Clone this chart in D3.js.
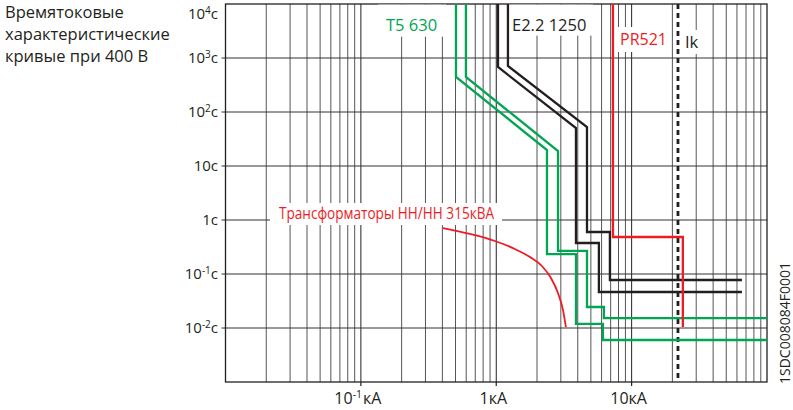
<!DOCTYPE html>
<html><head><meta charset="utf-8">
<script src="https://cdn.jsdelivr.net/npm/d3@7"></script>
<style>
body{margin:0;background:#fff}
svg{display:block}
text{font-family:"Open Sans",sans-serif}
</style>
</head><body>
<svg id="chart" width="793" height="410"></svg>
<script>
// ---------- data ----------
const titleLines = ["Времятоковые", "характеристические", "кривые при 400 В"];

const yLabelValues = [1e4, 1e3, 1e2, 1e1, 1, 1e-1, 1e-2];
const yLabelMain   = ["10", "10", "10", "10", "1", "10", "10"];
const yLabelSup    = ["4", "3", "2", "", "", "-1", "-2"];
const yUnit = "с";

const xLabelValues = [0.1, 1, 10];
const xLabelMain   = ["10", "1", "10"];
const xLabelSup    = ["-1", "", ""];
const xUnit = "кА";

// T5 630 (green band)
const t5LowI  = [0.504, 0.504, 2.37, 2.37, 3.88, 3.88, 6.14, 6.14, 100];
const t5LowT  = [1e4, 445, 19.8, 0.234, 0.234, 0.0119, 0.0119, 0.006, 0.006];
const t5HighI = [0.597, 0.597, 2.86, 2.86, 4.68, 4.68, 6.24, 6.24, 100];
const t5HighT = [1e4, 445, 18.9, 0.267, 0.267, 0.0245, 0.0245, 0.0153, 0.0153];

// E2.2 1250 (black band)
const e2LowI  = [1.03, 1.03, 3.88, 3.88, 5.73, 5.73, 65.3];
const e2LowT  = [1e4, 681, 50.5, 0.375, 0.375, 0.0464, 0.0464];
const e2HighI = [1.22, 1.22, 4.68, 4.68, 6.91, 6.91, 65.3];
const e2HighT = [1e4, 711, 52.7, 0.6, 0.6, 0.0774, 0.0774];

// PR521 (red)
const prI = [7.28, 7.28, 23.9, 23.9];
const prT = [1e4, 0.484, 0.484, 0.0104];

// Transformer inrush curve (red)
const trI = [0.404, 0.639, 0.978, 1.374, 1.774, 2.175, 2.535, 2.856, 3.11, 3.27];
const trT = [0.711, 0.551, 0.408, 0.290, 0.2065, 0.1407, 0.0843, 0.0445, 0.0216, 0.0104];

// Short-circuit current Ik
const ikValue = 22;

const seriesNames = ["T5 630", "E2.2 1250", "PR521", "Трансформаторы НН/НН 315кВА", "Ik"];
const figureCode = "1SDC008084F0001";

// ---------- drawing ----------
const GREEN = "#00a651", BLACK = "#231f20", RED = "#ed1c24";
const svg = d3.select("#chart");

const x = d3.scaleLog().domain([0.01, 100]).range([225.5, 767]);
const y = d3.scaleLog().domain([1e-3, 1e4]).range([382, 4]);

// title
svg.append("g").selectAll("text").data(titleLines).join("text")
  .attr("x", 5).attr("y", (d, i) => 18 + i * 22)
  .attr("font-size", 16.5).attr("fill", "#231f20").text(d => d);

// grid: vertical lines at 1..9 x 10^n
const vLines = [];
for (let e = -2; e <= 1; e++) for (let k = 1; k <= 9; k++) vLines.push(k * Math.pow(10, e));
const grid = svg.append("g");
grid.selectAll("line.v").data(vLines).join("line")
  .attr("x1", d => x(d)).attr("x2", d => x(d))
  .attr("y1", y(1e4)).attr("y2", y(1e-3))
  .attr("stroke", d => Math.abs(Math.log10(d) - Math.round(Math.log10(d))) < 1e-9 ? "#222" : "#555")
  .attr("stroke-width", 1);
const hLines = [1e3, 1e2, 1e1, 1, 1e-1, 1e-2];
grid.selectAll("line.h").data(hLines).join("line")
  .attr("x1", x(0.01) - 4).attr("x2", x(100))
  .attr("y1", d => y(d)).attr("y2", d => y(d))
  .attr("stroke", "#333").attr("stroke-width", 1);

// frame
svg.append("rect").attr("x", x(0.01)).attr("y", y(1e4))
  .attr("width", x(100) - x(0.01)).attr("height", y(1e-3) - y(1e4))
  .attr("fill", "none").attr("stroke", "#231f20").attr("stroke-width", 1.3);

// x ticks
svg.append("g").selectAll("line").data(xLabelValues).join("line")
  .attr("x1", d => x(d)).attr("x2", d => x(d))
  .attr("y1", y(1e-3)).attr("y2", y(1e-3) + 4)
  .attr("stroke", "#231f20").attr("stroke-width", 1.2);

// label background boxes (hide grid behind labels)
const boxes = [[378, 4.6, 68, 32], [509, 4.6, 84, 31], [616, 27, 53, 25], [683, 30, 17, 24], [270, 203, 232, 22]];
svg.append("g").selectAll("rect").data(boxes).join("rect")
  .attr("x", d => d[0]).attr("y", d => d[1]).attr("width", d => d[2]).attr("height", d => d[3])
  .attr("fill", "#fff");

// Ik dashed
svg.append("line").attr("x1", x(ikValue)).attr("x2", x(ikValue))
  .attr("y1", y(1e4)).attr("y2", y(1e-3))
  .attr("stroke", BLACK).attr("stroke-width", 2.8).attr("stroke-dasharray", "5,4");

// curves
const line = d3.line().x(d => x(d[0])).y(d => y(d[1]));
const zip = (a, b) => a.map((v, i) => [v, b[i]]);
const curves = [
  [t5LowI, t5LowT, GREEN], [t5HighI, t5HighT, GREEN],
  [e2LowI, e2LowT, BLACK], [e2HighI, e2HighT, BLACK],
  [prI, prT, RED]
];
svg.append("g").selectAll("path").data(curves).join("path")
  .attr("d", d => line(zip(d[0], d[1])))
  .attr("fill", "none").attr("stroke", d => d[2]).attr("stroke-width", 2.3)
  .attr("stroke-linejoin", "miter");
svg.append("path")
  .attr("d", d3.line().x(d => x(d[0])).y(d => y(d[1])).curve(d3.curveMonotoneX)(zip(trI, trT)))
  .attr("fill", "none").attr("stroke", RED).attr("stroke-width", 1.8);

// series labels
svg.append("text").attr("x", 386).attr("y", 31).attr("font-size", 16.5).attr("fill", GREEN).text(seriesNames[0]);
svg.append("text").attr("x", 512).attr("y", 31).attr("font-size", 16.5).attr("fill", BLACK).text(seriesNames[1]);
svg.append("text").attr("x", 620).attr("y", 45).attr("font-size", 16).attr("fill", RED).text(seriesNames[2]);
svg.append("text").attr("x", 279).attr("y", 219).attr("font-size", 16).attr("fill", RED)
  .attr("textLength", 215).attr("lengthAdjust", "spacingAndGlyphs").text(seriesNames[3]);
svg.append("text").attr("x", 685).attr("y", 48).attr("font-size", 16.5).attr("fill", BLACK).text(seriesNames[4]);

// y labels
const yl = svg.append("g").selectAll("text").data(yLabelValues).join("text")
  .attr("x", 218).attr("y", (d, i) => i === 0 ? 19 : y(d) + 5)
  .attr("text-anchor", "end").attr("font-size", 15).attr("fill", "#231f20");
yl.each(function(d, i) {
  const t = d3.select(this);
  t.append("tspan").text(yLabelMain[i]);
  if (yLabelSup[i]) {
    t.append("tspan").attr("font-size", 10).attr("dy", -5).text(yLabelSup[i]);
    t.append("tspan").attr("dy", 5).text(yUnit);
  } else {
    t.append("tspan").text(yUnit);
  }
});

// x labels
const xl = svg.append("g").selectAll("text").data(xLabelValues).join("text")
  .attr("x", d => x(d) - 3).attr("y", 404)
  .attr("text-anchor", "middle").attr("font-size", 16).attr("fill", "#231f20");
xl.each(function(d, i) {
  const t = d3.select(this);
  t.append("tspan").text(xLabelMain[i]);
  if (xLabelSup[i]) {
    t.append("tspan").attr("font-size", 10.5).attr("dy", -6).text(xLabelSup[i]);
    t.append("tspan").attr("dy", 6).attr("dx", 1).text(xUnit);
  } else {
    t.append("tspan").text(xUnit);
  }
});

// figure code
svg.append("text").attr("transform", "translate(790,323) rotate(-90)")
  .attr("text-anchor", "middle").attr("font-size", 14).attr("fill", "#231f20").text(figureCode);
</script>
</body></html>
